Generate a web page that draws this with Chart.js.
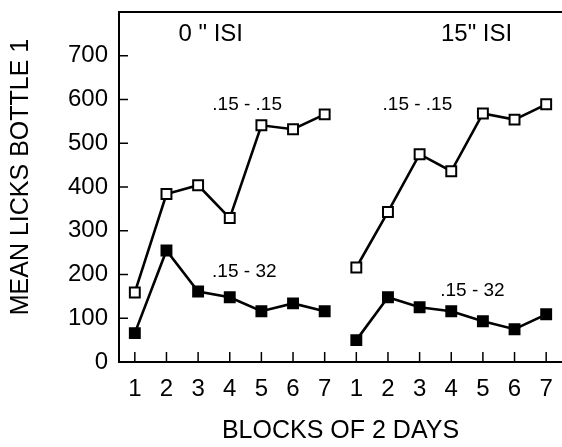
<!DOCTYPE html>
<html>
<head>
<meta charset="utf-8">
<script src="https://cdn.jsdelivr.net/npm/chart.js@4.4.1/dist/chart.umd.min.js"></script>
<style>
  html, body { margin: 0; padding: 0; background: #fff; }
  #wrap { width: 562px; height: 447px; }
</style>
</head>
<body>
<div id="wrap"><canvas id="chart"></canvas></div>
<script>
// blocks of 2 days, shown twice (0" ISI then 15" ISI)
const blocks = ["1", "2", "3", "4", "5", "6", "7"];
const open0 = [159, 384, 404, 329, 541, 532, 566];     // .15 - .15, 0" ISI
const filled0 = [66, 255, 161, 148, 116, 134, 116];    // .15 - 32, 0" ISI
const open15 = [216, 343, 475, 436, 568, 554, 589];    // .15 - .15, 15" ISI
const filled15 = [50, 148, 125, 116, 93, 75, 109];     // .15 - 32, 15" ISI
const yTicks = [0, 100, 200, 300, 400, 500, 600, 700];
const yTitle = "MEAN LICKS BOTTLE 1";

const FONT = "'Liberation Sans', Arial, Helvetica, sans-serif";
const none = blocks.map(() => null);
const labels = blocks.concat(blocks);

// text labels placed in data coords (category index, value)
const notes = [
  { text: '0 " ISI', i: 2.4, v: 750, size: 24 },
  { text: '15" ISI', i: 10.8, v: 750, size: 24 },
  { text: ".15 - .15", i: 3.55, v: 588, size: 19 },
  { text: ".15 - .15", i: 8.93, v: 588, size: 19 },
  { text: ".15 - 32", i: 3.46, v: 206, size: 19 },
  { text: ".15 - 32", i: 10.67, v: 162, size: 19 },
];

const lineSet = (data, filled) => ({
  data: data,
  borderColor: "#000",
  borderWidth: 2.6,
  backgroundColor: filled ? "#000" : "#fff",
  pointStyle: "rect",
  pointRadius: 7,
  pointBorderWidth: 2,
  pointBackgroundColor: filled ? "#000" : "#fff",
  pointBorderColor: "#000",
  tension: 0,
  fill: false,
});

// inward tick marks, top frame line, y title and the text notes
const extras = {
  id: "extras",
  afterDatasetsDraw(chart) {
    const ctx = chart.ctx;
    const area = chart.chartArea;
    const xs = chart.scales.x;
    const ys = chart.scales.y;
    ctx.save();
    ctx.strokeStyle = "#000";
    ctx.lineWidth = 2;
    ctx.beginPath();
    ctx.moveTo(area.left, area.top);
    ctx.lineTo(area.right, area.top);
    ctx.stroke();
    ctx.lineWidth = 1.5;
    yTicks.forEach((t) => {
      const y = ys.getPixelForValue(t);
      ctx.beginPath();
      ctx.moveTo(area.left, y);
      ctx.lineTo(area.left + 9, y);
      ctx.stroke();
    });
    labels.forEach((l, i) => {
      const x = xs.getPixelForValue(i);
      ctx.beginPath();
      ctx.moveTo(x, area.bottom);
      ctx.lineTo(x, area.bottom - 10);
      ctx.stroke();
    });
    ctx.fillStyle = "#000";
    ctx.textAlign = "center";
    ctx.textBaseline = "middle";
    notes.forEach((n) => {
      ctx.font = n.size + "px " + FONT;
      ctx.fillText(n.text, xs.getPixelForValue(n.i), ys.getPixelForValue(n.v));
    });
    // y title sits a little above the plot's middle in the original
    ctx.translate(21, area.top + (area.bottom - area.top) / 2 - 10);
    ctx.rotate(-Math.PI / 2);
    ctx.font = "25px " + FONT;
    ctx.fillText(yTitle, 0, 0);
    ctx.restore();
  },
};

new Chart(document.getElementById("chart"), {
  type: "line",
  data: {
    labels: labels,
    datasets: [
      lineSet(open0.concat(none), false),
      lineSet(none.concat(open15), false),
      lineSet(filled0.concat(none), true),
      lineSet(none.concat(filled15), true),
    ],
  },
  options: {
    responsive: true,
    maintainAspectRatio: false,
    animation: false,
    spanGaps: false,
    layout: { autoPadding: false, padding: { top: 12, right: 0, left: 0, bottom: 0 } },
    plugins: {
      legend: { display: false },
      tooltip: { enabled: false },
    },
    scales: {
      x: {
        offset: true,
        grid: { display: false, drawTicks: false },
        border: { display: true, color: "#000", width: 2 },
        ticks: {
          color: "#000",
          padding: 13,
          maxRotation: 0,
          autoSkip: false,
          font: { family: FONT, size: 24 },
        },
        title: {
          display: true,
          text: "BLOCKS OF 2 DAYS",
          color: "#000",
          padding: { top: 0, bottom: 1 },
          font: { family: FONT, size: 25 },
        },
        afterFit: (scale) => {
          scale.height = 85;
          scale.paddingLeft = 0;
          scale.paddingRight = 0;
        },
      },
      y: {
        min: 0,
        max: 800,
        grid: { display: false, drawTicks: false },
        border: { display: true, color: "#000", width: 2 },
        afterBuildTicks: (scale) => {
          scale.ticks = yTicks.map((v) => ({ value: v }));
        },
        ticks: {
          color: "#000",
          padding: 11,
          font: { family: FONT, size: 24 },
        },
        afterFit: (scale) => {
          scale.width = 119;
          scale.paddingTop = 0;
          scale.paddingBottom = 0;
        },
      },
    },
  },
  plugins: [extras],
});
</script>
</body>
</html>
